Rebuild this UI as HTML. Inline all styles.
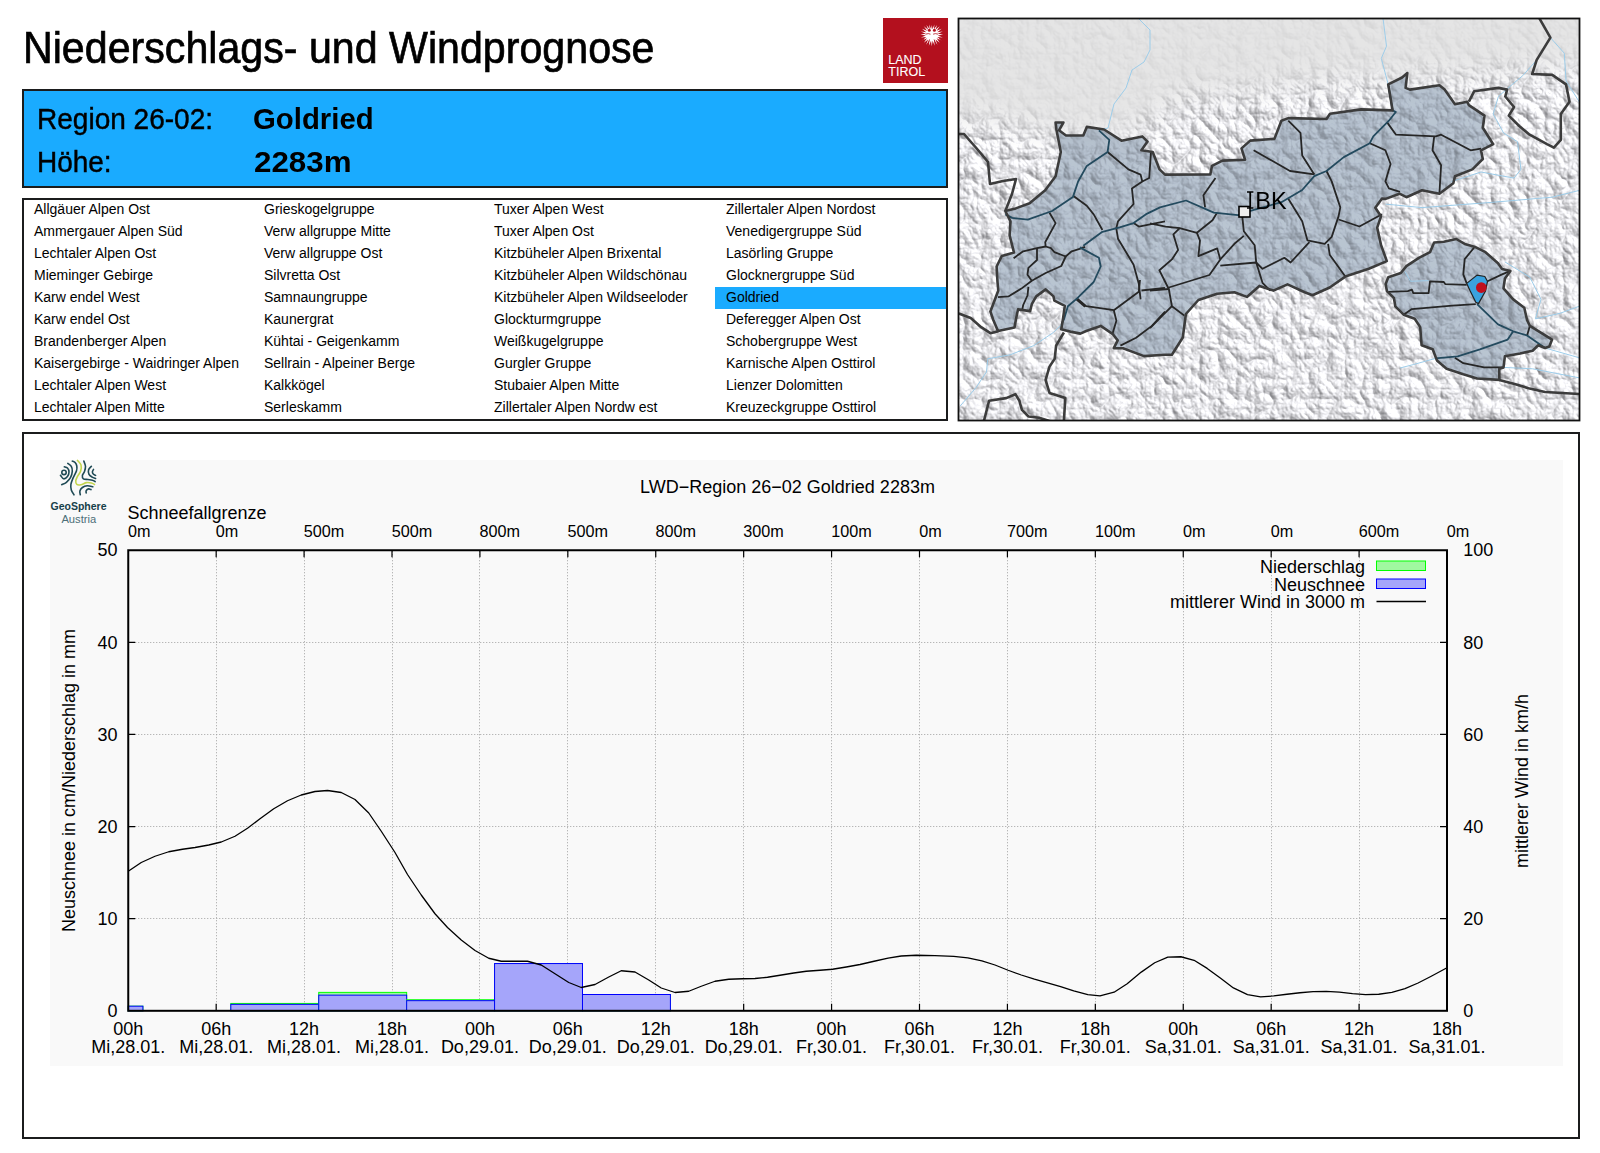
<!DOCTYPE html><html><head><meta charset="utf-8"><title>Niederschlags- und Windprognose</title><style>
html,body{margin:0;padding:0;background:#fff;width:1600px;height:1153px;overflow:hidden}
body{position:relative;font-family:"Liberation Sans",sans-serif;color:#000}
.a{position:absolute;white-space:pre;line-height:1}
svg{position:absolute;left:0;top:0}
</style></head><body>
<div class="a" style="left:23px;top:25.5px;font-size:44.5px;-webkit-text-stroke:0.7px #000;transform-origin:0 0;transform:scaleX(0.925)">Niederschlags- und Windprognose</div>
<div class="a" style="left:883px;top:18px;width:65px;height:65px;background:#b3101e"></div>
<div class="a" style="left:888.3px;top:54.3px;font-size:12.5px;color:#fff;line-height:12.1px;-webkit-text-stroke:0.1px #fff">LAND<br>TIROL</div>
<svg width="1600" height="1153" viewBox="0 0 1600 1153"><path d="M931.80 25.02L932.48 29.30L934.40 24.60L933.93 29.31L937.20 24.97L935.41 29.75L939.79 26.37L936.56 30.84L941.59 28.78L937.34 32.24L942.71 31.59L937.75 33.79L943.10 34.60L937.75 35.41L942.71 37.61L937.34 36.96L941.59 40.42L936.56 38.36L939.79 42.83L935.45 39.50L937.45 44.68L934.10 40.31L934.72 45.84L932.58 40.73L931.80 46.24L931.02 40.73L928.88 45.84L929.50 40.31L926.15 44.68L928.15 39.50L923.81 42.83L927.04 38.36L922.01 40.42L926.26 36.96L920.89 37.61L925.85 35.41L920.50 34.60L925.85 33.79L920.89 31.59L926.26 32.24L922.01 28.78L927.04 30.84L923.81 26.37L928.19 29.75L926.40 24.97L929.67 29.31L929.20 24.60L931.12 29.30Z" fill="#fff"/><circle cx="929.3" cy="30.2" r="1.5" fill="#b3101e"/><circle cx="934.4" cy="30.2" r="1.5" fill="#b3101e"/><path d="M925.5 34.2Q928.5 33 930.5 34.2M933.1 34.2Q935.1 33 938.1 34.2" stroke="#b3101e" stroke-width="0.8" fill="none"/><path d="M929.5 39.5L927.8 44M934.1 39.5L935.8 44M924 38.5L922.5 41M939.6 38.5L941.1 41" stroke="#b3101e" stroke-width="0.9" fill="none"/></svg>
<div class="a" style="left:22px;top:89px;width:922px;height:95px;background:#1aabff;border:2px solid #1b1c1d"></div>
<div class="a" style="left:37px;top:103.8px;font-size:29.5px;-webkit-text-stroke:0.45px #000;transform-origin:0 0;transform:scaleX(0.95)">Region 26-02:</div>
<div class="a" style="left:37px;top:146.8px;font-size:29.5px;-webkit-text-stroke:0.45px #000;transform-origin:0 0;transform:scaleX(0.948)">Höhe:</div>
<div class="a" style="left:253px;top:103.5px;font-size:30px;font-weight:bold;transform-origin:0 0;transform:scaleX(0.978)">Goldried</div>
<div class="a" style="left:254px;top:146.5px;font-size:30px;font-weight:bold;transform-origin:0 0;transform:scaleX(1.044)">2283m</div>
<div class="a" style="left:22px;top:198px;width:922px;height:219px;border:2px solid #1b1c1d"></div>
<div class="a" style="left:715px;top:287px;width:231px;height:22px;background:#1aabff"></div>
<div class="a" style="left:34px;top:202.2px;font-size:14px">Allgäuer Alpen Ost</div>
<div class="a" style="left:34px;top:224.2px;font-size:14px">Ammergauer Alpen Süd</div>
<div class="a" style="left:34px;top:246.2px;font-size:14px">Lechtaler Alpen Ost</div>
<div class="a" style="left:34px;top:268.2px;font-size:14px">Mieminger Gebirge</div>
<div class="a" style="left:34px;top:290.2px;font-size:14px">Karw endel West</div>
<div class="a" style="left:34px;top:312.2px;font-size:14px">Karw endel Ost</div>
<div class="a" style="left:34px;top:334.2px;font-size:14px">Brandenberger Alpen</div>
<div class="a" style="left:34px;top:356.2px;font-size:14px">Kaisergebirge - Waidringer Alpen</div>
<div class="a" style="left:34px;top:378.2px;font-size:14px">Lechtaler Alpen West</div>
<div class="a" style="left:34px;top:400.2px;font-size:14px">Lechtaler Alpen Mitte</div>
<div class="a" style="left:264px;top:202.2px;font-size:14px">Grieskogelgruppe</div>
<div class="a" style="left:264px;top:224.2px;font-size:14px">Verw allgruppe Mitte</div>
<div class="a" style="left:264px;top:246.2px;font-size:14px">Verw allgruppe Ost</div>
<div class="a" style="left:264px;top:268.2px;font-size:14px">Silvretta Ost</div>
<div class="a" style="left:264px;top:290.2px;font-size:14px">Samnaungruppe</div>
<div class="a" style="left:264px;top:312.2px;font-size:14px">Kaunergrat</div>
<div class="a" style="left:264px;top:334.2px;font-size:14px">Kühtai - Geigenkamm</div>
<div class="a" style="left:264px;top:356.2px;font-size:14px">Sellrain - Alpeiner Berge</div>
<div class="a" style="left:264px;top:378.2px;font-size:14px">Kalkkögel</div>
<div class="a" style="left:264px;top:400.2px;font-size:14px">Serleskamm</div>
<div class="a" style="left:494px;top:202.2px;font-size:14px">Tuxer Alpen West</div>
<div class="a" style="left:494px;top:224.2px;font-size:14px">Tuxer Alpen Ost</div>
<div class="a" style="left:494px;top:246.2px;font-size:14px">Kitzbüheler Alpen Brixental</div>
<div class="a" style="left:494px;top:268.2px;font-size:14px">Kitzbüheler Alpen Wildschönau</div>
<div class="a" style="left:494px;top:290.2px;font-size:14px">Kitzbüheler Alpen Wildseeloder</div>
<div class="a" style="left:494px;top:312.2px;font-size:14px">Glockturmgruppe</div>
<div class="a" style="left:494px;top:334.2px;font-size:14px">Weißkugelgruppe</div>
<div class="a" style="left:494px;top:356.2px;font-size:14px">Gurgler Gruppe</div>
<div class="a" style="left:494px;top:378.2px;font-size:14px">Stubaier Alpen Mitte</div>
<div class="a" style="left:494px;top:400.2px;font-size:14px">Zillertaler Alpen Nordw est</div>
<div class="a" style="left:726px;top:202.2px;font-size:14px">Zillertaler Alpen Nordost</div>
<div class="a" style="left:726px;top:224.2px;font-size:14px">Venedigergruppe Süd</div>
<div class="a" style="left:726px;top:246.2px;font-size:14px">Lasörling Gruppe</div>
<div class="a" style="left:726px;top:268.2px;font-size:14px">Glocknergruppe Süd</div>
<div class="a" style="left:726px;top:290.2px;font-size:14px">Goldried</div>
<div class="a" style="left:726px;top:312.2px;font-size:14px">Deferegger Alpen Ost</div>
<div class="a" style="left:726px;top:334.2px;font-size:14px">Schobergruppe West</div>
<div class="a" style="left:726px;top:356.2px;font-size:14px">Karnische Alpen Osttirol</div>
<div class="a" style="left:726px;top:378.2px;font-size:14px">Lienzer Dolomitten</div>
<div class="a" style="left:726px;top:400.2px;font-size:14px">Kreuzeckgruppe Osttirol</div>
<div class="a" style="left:22px;top:432px;width:1554px;height:703px;border:2px solid #1b1c1d"></div>
<svg width="1600" height="1153" viewBox="0 0 1600 1153" style="font-family:'Liberation Sans',sans-serif"><rect x="50" y="460" width="1513" height="606" fill="#f9f9f9"/><path d="M216.50 551.25V1009.80M304.50 551.25V1009.80M392.50 551.25V1009.80M479.50 551.25V1009.80M567.50 551.25V1009.80M655.50 551.25V1009.80M743.50 551.25V1009.80M831.50 551.25V1009.80M919.50 551.25V1009.80M1007.50 551.25V1009.80M1095.50 551.25V1009.80M1183.50 551.25V1009.80M1271.50 551.25V1009.80M1359.50 551.25V1009.80M129.25 918.50H1446.00M129.25 826.50H1446.00M129.25 734.50H1446.00M129.25 642.50H1446.00" stroke="#a0a0a0" stroke-width="1" stroke-dasharray="1 2" fill="none"/><path d="M216.17 1010.80v-7M216.17 550.25v7M304.08 1010.80v-7M304.08 550.25v7M392.00 1010.80v-7M392.00 550.25v7M479.92 1010.80v-7M479.92 550.25v7M567.83 1010.80v-7M567.83 550.25v7M655.75 1010.80v-7M655.75 550.25v7M743.67 1010.80v-7M743.67 550.25v7M831.58 1010.80v-7M831.58 550.25v7M919.50 1010.80v-7M919.50 550.25v7M1007.42 1010.80v-7M1007.42 550.25v7M1095.33 1010.80v-7M1095.33 550.25v7M1183.25 1010.80v-7M1183.25 550.25v7M1271.17 1010.80v-7M1271.17 550.25v7M1359.08 1010.80v-7M1359.08 550.25v7M128.25 918.69h7M1447.00 918.69h-7M128.25 826.58h7M1447.00 826.58h-7M128.25 734.47h7M1447.00 734.47h-7M128.25 642.36h7M1447.00 642.36h-7" stroke="#000" stroke-width="1.2" fill="none"/><rect x="128.25" y="1006.19" width="14.65" height="4.61" fill="#a0f8a0" stroke="#00ff00" stroke-width="1"/><rect x="128.25" y="1006.19" width="14.65" height="4.61" fill="#a5a5fa" stroke="#0000ff" stroke-width="1"/><rect x="230.82" y="1003.43" width="87.92" height="7.37" fill="#a0f8a0" stroke="#00ff00" stroke-width="1"/><rect x="230.82" y="1004.35" width="87.92" height="6.45" fill="#a5a5fa" stroke="#0000ff" stroke-width="1"/><rect x="318.74" y="992.38" width="87.92" height="18.42" fill="#a0f8a0" stroke="#00ff00" stroke-width="1"/><rect x="318.74" y="995.14" width="87.92" height="15.66" fill="#a5a5fa" stroke="#0000ff" stroke-width="1"/><rect x="406.65" y="999.75" width="87.92" height="11.05" fill="#a0f8a0" stroke="#00ff00" stroke-width="1"/><rect x="406.65" y="1000.67" width="87.92" height="10.13" fill="#a5a5fa" stroke="#0000ff" stroke-width="1"/><rect x="494.57" y="963.55" width="87.92" height="47.25" fill="#a0f8a0" stroke="#00ff00" stroke-width="1"/><rect x="494.57" y="963.55" width="87.92" height="47.25" fill="#a5a5fa" stroke="#0000ff" stroke-width="1"/><rect x="582.49" y="994.50" width="87.92" height="16.30" fill="#a0f8a0" stroke="#00ff00" stroke-width="1"/><rect x="582.49" y="994.50" width="87.92" height="16.30" fill="#a5a5fa" stroke="#0000ff" stroke-width="1"/><polyline points="128.25,871.25 141.25,862.50 155.00,856.25 168.75,851.75 182.50,849.25 195.00,847.50 208.75,845.00 221.25,842.00 235.00,836.25 247.50,828.25 260.00,818.75 273.75,808.75 287.50,800.75 301.25,795.00 315.00,791.50 327.50,790.50 341.25,792.50 355.00,799.50 368.75,813.00 381.25,831.25 395.00,852.50 407.50,874.50 421.25,895.00 435.00,913.75 447.50,927.50 461.25,940.00 475.00,950.50 488.75,958.25 501.25,961.25 527.50,961.25 541.25,965.00 555.00,973.75 568.75,982.50 581.25,987.50 595.00,984.50 608.75,977.00 621.25,970.75 635.00,972.00 648.75,980.00 661.25,988.00 675.00,992.50 688.75,991.25 701.25,986.25 715.00,981.25 728.75,979.25 742.50,978.75 755.00,978.50 767.50,977.25 780.00,975.25 793.75,973.00 806.25,971.25 820.00,970.25 832.50,969.25 846.25,967.00 860.00,964.50 874.10,961.25 888.10,958.10 901.25,956.00 916.25,955.25 935.00,955.60 953.75,956.40 967.80,957.90 981.90,960.90 995.00,965.00 1008.10,970.25 1021.25,975.00 1034.40,979.10 1047.50,982.80 1060.60,986.60 1073.75,990.90 1087.80,994.60 1100.00,995.90 1114.10,992.20 1127.20,983.75 1141.25,972.10 1154.70,962.75 1167.80,957.10 1180.90,956.75 1194.10,960.30 1207.20,968.40 1220.30,978.10 1233.40,987.90 1247.50,994.60 1260.60,996.90 1273.75,995.90 1286.90,994.25 1300.00,992.75 1313.10,991.60 1326.25,991.40 1339.40,992.20 1352.50,993.70 1365.60,994.60 1378.75,994.25 1391.90,992.40 1405.00,988.60 1418.10,983.00 1431.25,976.25 1447.00,967.80" fill="none" stroke="#000" stroke-width="1.3" stroke-linejoin="round"/><rect x="128.25" y="550.25" width="1318.75" height="460.55" fill="none" stroke="#000" stroke-width="2"/><text x="117.5" y="1017.00" font-size="18" text-anchor="end">0</text><text x="117.5" y="924.89" font-size="18" text-anchor="end">10</text><text x="117.5" y="832.78" font-size="18" text-anchor="end">20</text><text x="117.5" y="740.67" font-size="18" text-anchor="end">30</text><text x="117.5" y="648.56" font-size="18" text-anchor="end">40</text><text x="117.5" y="556.45" font-size="18" text-anchor="end">50</text><text x="1463.2" y="1017.00" font-size="18">0</text><text x="1463.2" y="924.89" font-size="18">20</text><text x="1463.2" y="832.78" font-size="18">40</text><text x="1463.2" y="740.67" font-size="18">60</text><text x="1463.2" y="648.56" font-size="18">80</text><text x="1463.2" y="556.45" font-size="18">100</text><text x="128.25" y="1035" font-size="18" text-anchor="middle">00h</text><text x="128.25" y="1053" font-size="18" text-anchor="middle">Mi,28.01.</text><text x="216.17" y="1035" font-size="18" text-anchor="middle">06h</text><text x="216.17" y="1053" font-size="18" text-anchor="middle">Mi,28.01.</text><text x="304.08" y="1035" font-size="18" text-anchor="middle">12h</text><text x="304.08" y="1053" font-size="18" text-anchor="middle">Mi,28.01.</text><text x="392.00" y="1035" font-size="18" text-anchor="middle">18h</text><text x="392.00" y="1053" font-size="18" text-anchor="middle">Mi,28.01.</text><text x="479.92" y="1035" font-size="18" text-anchor="middle">00h</text><text x="479.92" y="1053" font-size="18" text-anchor="middle">Do,29.01.</text><text x="567.83" y="1035" font-size="18" text-anchor="middle">06h</text><text x="567.83" y="1053" font-size="18" text-anchor="middle">Do,29.01.</text><text x="655.75" y="1035" font-size="18" text-anchor="middle">12h</text><text x="655.75" y="1053" font-size="18" text-anchor="middle">Do,29.01.</text><text x="743.67" y="1035" font-size="18" text-anchor="middle">18h</text><text x="743.67" y="1053" font-size="18" text-anchor="middle">Do,29.01.</text><text x="831.58" y="1035" font-size="18" text-anchor="middle">00h</text><text x="831.58" y="1053" font-size="18" text-anchor="middle">Fr,30.01.</text><text x="919.50" y="1035" font-size="18" text-anchor="middle">06h</text><text x="919.50" y="1053" font-size="18" text-anchor="middle">Fr,30.01.</text><text x="1007.42" y="1035" font-size="18" text-anchor="middle">12h</text><text x="1007.42" y="1053" font-size="18" text-anchor="middle">Fr,30.01.</text><text x="1095.33" y="1035" font-size="18" text-anchor="middle">18h</text><text x="1095.33" y="1053" font-size="18" text-anchor="middle">Fr,30.01.</text><text x="1183.25" y="1035" font-size="18" text-anchor="middle">00h</text><text x="1183.25" y="1053" font-size="18" text-anchor="middle">Sa,31.01.</text><text x="1271.17" y="1035" font-size="18" text-anchor="middle">06h</text><text x="1271.17" y="1053" font-size="18" text-anchor="middle">Sa,31.01.</text><text x="1359.08" y="1035" font-size="18" text-anchor="middle">12h</text><text x="1359.08" y="1053" font-size="18" text-anchor="middle">Sa,31.01.</text><text x="1447.00" y="1035" font-size="18" text-anchor="middle">18h</text><text x="1447.00" y="1053" font-size="18" text-anchor="middle">Sa,31.01.</text><text x="127.95" y="537" font-size="16.2">0m</text><text x="215.87" y="537" font-size="16.2">0m</text><text x="303.78" y="537" font-size="16.2">500m</text><text x="391.70" y="537" font-size="16.2">500m</text><text x="479.62" y="537" font-size="16.2">800m</text><text x="567.53" y="537" font-size="16.2">500m</text><text x="655.45" y="537" font-size="16.2">800m</text><text x="743.37" y="537" font-size="16.2">300m</text><text x="831.28" y="537" font-size="16.2">100m</text><text x="919.20" y="537" font-size="16.2">0m</text><text x="1007.12" y="537" font-size="16.2">700m</text><text x="1095.03" y="537" font-size="16.2">100m</text><text x="1182.95" y="537" font-size="16.2">0m</text><text x="1270.87" y="537" font-size="16.2">0m</text><text x="1358.78" y="537" font-size="16.2">600m</text><text x="1446.70" y="537" font-size="16.2">0m</text><text x="127.5" y="519.4" font-size="18">Schneefallgrenze</text><text x="787.5" y="492.8" font-size="18" text-anchor="middle">LWD−Region 26−02 Goldried 2283m</text><text transform="translate(75,780.5) rotate(-90)" font-size="18" text-anchor="middle">Neuschnee in cm/Niederschlag in mm</text><text transform="translate(1527.5,781) rotate(-90)" font-size="18" text-anchor="middle">mittlerer Wind in km/h</text><text x="1365" y="572.5" font-size="18" text-anchor="end">Niederschlag</text><text x="1365" y="590.5" font-size="18" text-anchor="end">Neuschnee</text><text x="1365" y="608.3" font-size="18" text-anchor="end">mittlerer Wind in 3000 m</text><rect x="1376.5" y="561" width="49" height="9.5" fill="#a0f8a0" stroke="#00ff00" stroke-width="1"/><rect x="1376.5" y="579" width="49" height="9.5" fill="#a5a5fa" stroke="#0000ff" stroke-width="1"/><path d="M1376.5 601.5H1426" stroke="#000" stroke-width="1.5"/><g fill="none" stroke="#1f4a55" stroke-width="1.6" stroke-linecap="round"><circle cx="64" cy="472.4" r="2.2"/><path d="M60.50 475.35C61.02 475.93 62.44 478.62 63.60 478.80C64.76 478.98 66.55 477.55 67.45 476.40C68.35 475.25 69.00 473.29 69.00 471.90C69.00 470.51 68.23 468.90 67.45 468.06C66.67 467.22 64.83 467.05 64.30 466.85"/><path d="M61.70 484.70C62.48 484.30 64.92 483.52 66.40 482.30C67.88 481.08 69.62 479.25 70.60 477.40C71.58 475.55 72.18 473.05 72.30 471.20C72.42 469.35 72.05 467.60 71.30 466.30C70.55 465.00 68.38 463.88 67.80 463.40"/><path d="M74.00 494.80C73.55 493.98 71.82 491.63 71.30 489.90C70.78 488.17 70.62 486.37 70.90 484.40C71.18 482.43 72.07 480.37 73.00 478.10C73.93 475.83 75.87 472.82 76.50 470.80C77.13 468.78 77.03 467.38 76.80 466.00C76.57 464.62 75.85 463.32 75.10 462.50C74.35 461.68 72.77 461.33 72.30 461.10"/><path d="M83.80 461.10C84.08 461.97 85.38 464.57 85.50 466.30C85.62 468.03 85.02 469.99 84.50 471.50C83.98 473.01 82.58 474.13 82.40 475.35C82.22 476.57 82.48 478.11 83.40 478.80C84.32 479.49 86.40 479.27 87.90 479.50C89.40 479.73 91.18 479.85 92.40 480.20C93.62 480.55 94.73 481.37 95.20 481.60"/><path d="M91.40 466.30C90.93 466.88 89.00 468.47 88.60 469.80C88.20 471.13 88.42 473.08 89.00 474.30C89.58 475.52 91.00 476.40 92.10 477.10C93.20 477.80 95.02 478.27 95.60 478.50"/><path d="M93.50 469.45C93.32 469.86 92.40 471.09 92.40 471.90C92.40 472.71 92.97 473.73 93.50 474.30C94.03 474.88 95.25 475.18 95.60 475.35"/><path d="M80.30 494.80C80.23 494.17 79.55 492.22 79.90 491.00C80.25 489.78 81.18 488.37 82.40 487.50C83.62 486.63 85.47 485.92 87.20 485.80C88.93 485.68 91.87 486.63 92.80 486.80"/><path d="M86.20 493.00C86.20 492.60 85.80 491.28 86.20 490.60C86.60 489.92 87.80 489.07 88.60 488.90C89.40 488.73 90.60 489.48 91.00 489.60"/></g><path d="M77.50 460.40C78.08 461.15 80.48 463.10 81.00 464.90C81.52 466.70 81.18 469.28 80.60 471.20C80.02 473.12 78.30 474.83 77.50 476.40C76.70 477.97 75.92 479.27 75.80 480.60C75.68 481.93 75.93 483.72 76.80 484.40C77.67 485.08 79.38 485.00 81.00 484.70C82.62 484.40 84.77 482.88 86.50 482.60C88.23 482.32 90.07 482.70 91.40 483.00C92.73 483.30 93.98 484.17 94.50 484.40" fill="none" stroke="#c3d54c" stroke-width="1.6" stroke-linecap="round"/><text x="78.5" y="510.3" font-size="10.5" font-weight="bold" fill="#16404a" text-anchor="middle">GeoSphere</text><text x="78.8" y="522.8" font-size="11.2" fill="#4d6f78" text-anchor="middle">Austria</text></svg>
<svg width="1600" height="1153" viewBox="0 0 1600 1153"><defs><clipPath id="mc"><rect x="959" y="19" width="620" height="401"/></clipPath><filter id="mb" x="-10%" y="-10%" width="120%" height="120%"><feGaussianBlur stdDeviation="14"/></filter><mask id="mm" maskUnits="userSpaceOnUse" x="959" y="19" width="620" height="401"><rect x="959" y="19" width="620" height="401" fill="#202020"/><path d="M900 112L1000 122L1060 135L1110 138L1150 122L1180 100L1230 95L1280 88L1330 82L1380 80L1430 78L1480 76L1530 70L1600 66V460H900Z" fill="#fff" filter="url(#mb)"/></mask><filter id="hs" filterUnits="userSpaceOnUse" x="959" y="19" width="620" height="401" color-interpolation-filters="sRGB"><feTurbulence type="turbulence" baseFrequency="0.055 0.05" numOctaves="5" seed="5" result="n"/><feDiffuseLighting in="n" surfaceScale="3.5" diffuseConstant="1.1" lighting-color="#fff" result="l"><feDistantLight azimuth="315" elevation="45"/></feDiffuseLighting><feComponentTransfer><feFuncR type="linear" slope="0.5" intercept="0.522"/><feFuncG type="linear" slope="0.5" intercept="0.522"/><feFuncB type="linear" slope="0.5" intercept="0.537"/></feComponentTransfer></filter></defs><g clip-path="url(#mc)"><rect x="959" y="19" width="620" height="401" fill="#e2e2e2"/><rect x="959" y="19" width="620" height="401" fill="#fff" filter="url(#hs)" mask="url(#mm)"/><polygon points="1005.3,211.0 1010.5,221.4 1009.6,235.3 1014.0,252.6 1001.8,256.0 996.6,266.5 997.5,282.0 998.3,290.5 990.4,311.5 993.1,319.4 998.0,331.1 1014.5,327.6 1016.2,318.1 1018.0,309.4 1030.1,311.1 1031.8,304.2 1036.2,296.4 1045.7,289.4 1053.5,296.4 1054.4,300.7 1064.8,305.9 1063.1,318.1 1061.3,329.3 1071.7,331.9 1080.4,333.6 1086.2,331.0 1100.7,325.9 1112.5,333.8 1117.7,340.4 1113.8,348.2 1123.0,348.2 1144.0,356.1 1165.0,354.8 1171.9,354.7 1182.8,337.5 1185.9,314.0 1198.4,300.0 1217.2,293.8 1234.4,292.2 1246.9,296.9 1259.4,285.9 1273.4,290.6 1287.5,284.4 1304.7,292.2 1312.5,295.3 1329.7,287.5 1345.3,276.6 1368.8,268.8 1386.8,261.1 1381.0,244.9 1377.2,227.7 1381.0,216.3 1375.3,207.7 1382.0,198.6 1385.6,198.9 1399.5,193.7 1406.4,197.2 1422.0,190.2 1439.4,193.7 1453.3,183.3 1455.0,176.3 1472.4,169.4 1482.8,159.0 1481.0,150.3 1493.2,144.2 1482.8,127.8 1484.5,115.6 1468.9,105.2 1467.2,101.7 1455.0,104.3 1444.6,89.6 1439.4,85.3 1409.9,89.6 1405.6,87.9 1407.3,73.1 1402.1,77.5 1388.2,84.4 1392.6,110.4 1361.1,109.4 1330.0,113.8 1326.5,119.0 1288.3,118.1 1281.4,120.7 1274.4,138.9 1250.2,140.6 1241.5,148.4 1245.0,159.7 1222.4,160.6 1212.0,165.8 1210.3,174.4 1165.0,174.6 1159.6,169.4 1152.7,152.0 1141.4,150.3 1147.5,141.6 1142.3,136.4 1121.5,140.7 1104.1,129.5 1086.8,126.9 1083.3,135.5 1066.0,135.5 1059.0,130.3 1063.4,122.5 1055.6,122.5 1056.4,129.5 1060.8,152.0 1055.6,176.3 1045.2,190.2 1029.6,203.2 1015.7,208.4" fill="#bac6d3" stroke="none" style="mix-blend-mode:multiply"/><polygon points="1385.6,284.1 1388.3,277.2 1400.8,273.0 1406.4,266.1 1418.9,257.8 1430.0,252.2 1434.1,242.5 1443.8,241.8 1456.3,239.0 1464.7,243.9 1474.4,246.7 1485.5,252.2 1498.0,263.3 1502.1,268.9 1510.4,270.9 1504.9,278.6 1503.5,288.3 1513.2,299.4 1524.3,307.7 1527.1,320.2 1529.9,325.8 1552.1,339.6 1549.3,346.6 1545.1,348.0 1538.2,345.2 1532.6,350.7 1520.2,353.5 1504.9,356.3 1503.5,367.4 1499.3,368.8 1499.3,379.9 1477.1,378.5 1463.3,374.3 1446.6,368.8 1436.9,360.4 1432.7,349.3 1421.6,345.2 1420.2,327.1 1414.7,318.8 1403.6,314.7 1395.3,306.3 1393.9,298.0 1386.9,291.1" fill="#bac6d3" stroke="none" style="mix-blend-mode:multiply"/><polygon points="1005.3,211.0 1010.5,221.4 1009.6,235.3 1014.0,252.6 1001.8,256.0 996.6,266.5 997.5,282.0 998.3,290.5 990.4,311.5 993.1,319.4 998.0,331.1 1014.5,327.6 1016.2,318.1 1018.0,309.4 1030.1,311.1 1031.8,304.2 1036.2,296.4 1045.7,289.4 1053.5,296.4 1054.4,300.7 1064.8,305.9 1063.1,318.1 1061.3,329.3 1071.7,331.9 1080.4,333.6 1086.2,331.0 1100.7,325.9 1112.5,333.8 1117.7,340.4 1113.8,348.2 1123.0,348.2 1144.0,356.1 1165.0,354.8 1171.9,354.7 1182.8,337.5 1185.9,314.0 1198.4,300.0 1217.2,293.8 1234.4,292.2 1246.9,296.9 1259.4,285.9 1273.4,290.6 1287.5,284.4 1304.7,292.2 1312.5,295.3 1329.7,287.5 1345.3,276.6 1368.8,268.8 1386.8,261.1 1381.0,244.9 1377.2,227.7 1381.0,216.3 1375.3,207.7 1382.0,198.6 1385.6,198.9 1399.5,193.7 1406.4,197.2 1422.0,190.2 1439.4,193.7 1453.3,183.3 1455.0,176.3 1472.4,169.4 1482.8,159.0 1481.0,150.3 1493.2,144.2 1482.8,127.8 1484.5,115.6 1468.9,105.2 1467.2,101.7 1455.0,104.3 1444.6,89.6 1439.4,85.3 1409.9,89.6 1405.6,87.9 1407.3,73.1 1402.1,77.5 1388.2,84.4 1392.6,110.4 1361.1,109.4 1330.0,113.8 1326.5,119.0 1288.3,118.1 1281.4,120.7 1274.4,138.9 1250.2,140.6 1241.5,148.4 1245.0,159.7 1222.4,160.6 1212.0,165.8 1210.3,174.4 1165.0,174.6 1159.6,169.4 1152.7,152.0 1141.4,150.3 1147.5,141.6 1142.3,136.4 1121.5,140.7 1104.1,129.5 1086.8,126.9 1083.3,135.5 1066.0,135.5 1059.0,130.3 1063.4,122.5 1055.6,122.5 1056.4,129.5 1060.8,152.0 1055.6,176.3 1045.2,190.2 1029.6,203.2 1015.7,208.4" fill="#b6c2cf" fill-opacity="0.35"/><polygon points="1385.6,284.1 1388.3,277.2 1400.8,273.0 1406.4,266.1 1418.9,257.8 1430.0,252.2 1434.1,242.5 1443.8,241.8 1456.3,239.0 1464.7,243.9 1474.4,246.7 1485.5,252.2 1498.0,263.3 1502.1,268.9 1510.4,270.9 1504.9,278.6 1503.5,288.3 1513.2,299.4 1524.3,307.7 1527.1,320.2 1529.9,325.8 1552.1,339.6 1549.3,346.6 1545.1,348.0 1538.2,345.2 1532.6,350.7 1520.2,353.5 1504.9,356.3 1503.5,367.4 1499.3,368.8 1499.3,379.9 1477.1,378.5 1463.3,374.3 1446.6,368.8 1436.9,360.4 1432.7,349.3 1421.6,345.2 1420.2,327.1 1414.7,318.8 1403.6,314.7 1395.3,306.3 1393.9,298.0 1386.9,291.1" fill="#b6c2cf" fill-opacity="0.35"/><polygon points="1466.7,283.4 1477.1,275.1 1484.8,276.5 1487.5,281.3 1485.5,291.1 1478.5,303.6 1475.8,302.2 1470.2,291.1" fill="#3aa2df" stroke="#222" stroke-width="1.2"/><g fill="none" stroke="#9dcdea" stroke-width="1"><polyline points="1405.0,271.6 1410.5,281.3 1428.6,280.6"/><polyline points="1504.9,261.9 1529.9,277.2 1541.0,299.4 1535.4,318.8 1560.0,313.3 1580.0,306.0"/><polyline points="1400.0,368.0 1413.3,364.6 1435.5,358.4"/><polyline points="1503.5,367.4 1532.6,368.8 1580.0,378.0"/><polyline points="1545.1,348.0 1580.0,358.0"/><polyline points="960.2,406.0 976.0,387.6 986.5,371.9 987.8,358.8 1010.1,354.8 1033.8,345.6 1053.4,332.5 1061.3,324.6"/><polyline points="1138.0,18.0 1150.0,30.0 1150.0,50.0 1144.0,62.0 1132.0,70.0 1126.0,88.0 1114.0,104.0 1108.0,128.0 1098.9,130.3"/><polyline points="1383.0,18.0 1386.5,46.2 1381.3,58.4 1388.2,84.4"/><polyline points="1550.4,37.6 1564.3,53.2 1566.0,80.9 1580.0,103.0"/><polyline points="1536.6,60.1 1522.7,75.7 1512.3,84.4 1498.4,96.5 1493.2,113.9 1503.6,133.0 1517.5,141.7 1520.9,169.4 1514.0,178.1 1481.0,172.0 1451.5,181.6"/><polyline points="1385.6,204.1 1422.0,207.6 1491.4,202.4 1552.2,197.2 1580.0,190.2"/></g><g fill="none" stroke="#262626" stroke-width="1.8" stroke-linejoin="round"><polyline points="1107.6,152.0 1128.4,169.4 1140.6,174.6 1142.3,181.5 1131.9,188.4 1133.6,204.0 1118.0,221.4 1116.3,228.3 1118.0,238.7 1133.6,264.7 1138.8,283.8 1140.6,299.4"/><polyline points="1151.0,152.0 1149.2,178.0 1142.3,181.5"/><polyline points="1073.8,196.2 1086.8,205.8 1093.7,214.4 1102.4,230.0"/><polyline points="1049.5,212.7 1055.6,223.1 1045.2,242.2 1045.7,246.5 1050.9,248.2 1054.4,252.1 1065.7,256.5 1071.7,251.3 1080.4,248.7 1085.0,246.9"/><polyline points="1013.6,258.2 1023.2,251.3 1037.0,248.2 1045.7,246.5"/><polyline points="1037.0,248.2 1037.0,260.0 1028.4,267.8 1027.5,274.7 1031.8,280.8"/><polyline points="1028.4,286.8 1027.5,295.5 1023.2,305.0 1022.3,309.4"/><polyline points="1076.0,299.0 1085.0,306.8"/><polyline points="1065.7,256.5 1061.3,266.0 1045.7,273.0 1031.8,280.8 1021.4,288.6 1008.4,296.4 998.0,297.2"/><polyline points="1165.0,221.4 1138.8,226.6 1133.6,223.1"/><polyline points="1077.1,298.4 1086.2,306.2 1113.8,310.2 1138.8,291.8 1140.0,280.0"/><polyline points="1113.8,310.2 1116.4,320.7 1112.5,333.8"/><polyline points="1120.4,345.6 1136.1,337.7 1151.9,325.9 1165.0,311.5"/><polyline points="1141.4,290.5 1165.0,287.9"/><polyline points="1253.6,150.2 1290.0,171.0 1314.3,174.4"/><polyline points="1288.3,120.7 1300.5,132.8 1302.2,155.4 1314.3,174.4"/><polyline points="1215.5,177.9 1203.4,195.2 1205.1,207.4"/><polyline points="1288.3,198.7 1302.2,221.3 1307.4,240.3 1324.7,243.8 1331.7,236.9 1338.6,216.1 1340.3,207.4 1331.7,181.4 1326.5,171.0"/><polyline points="1338.6,219.5 1359.4,226.5 1382.0,214.3"/><polyline points="1369.8,143.2 1385.4,150.2 1390.6,164.0 1385.4,181.4 1388.9,188.3 1400.0,191.8"/><polyline points="1150.0,223.4 1165.6,226.6 1179.7,228.1 1196.9,232.8 1212.5,220.3 1217.2,212.5"/><polyline points="1179.7,228.1 1173.4,234.4 1178.1,250.0 1171.9,259.4 1159.4,270.3 1168.8,289.0 1150.0,290.6"/><polyline points="1168.8,289.0 1171.9,306.2 1184.4,315.6"/><polyline points="1171.9,306.2 1150.0,328.1"/><polyline points="1196.9,232.8 1200.0,240.6 1198.4,256.2 1217.2,248.4 1220.3,259.4 1209.4,275.0 1168.8,287.5"/><polyline points="1242.2,215.6 1243.8,231.2 1254.7,245.3 1256.2,262.5 1262.5,282.8 1270.3,290.6"/><polyline points="1243.8,235.9 1234.4,243.8 1220.3,259.4"/><polyline points="1220.3,265.6 1256.2,262.5 1262.5,268.8 1284.4,257.8 1290.6,262.5 1309.4,242.2"/><polyline points="1328.1,243.8 1329.7,254.7 1345.3,276.6"/><polyline points="1387.3,122.6 1396.0,134.7 1435.9,136.4 1441.1,134.7 1470.6,150.3 1481.0,148.6"/><polyline points="1434.2,136.4 1432.5,150.3 1441.1,165.3 1439.4,193.7"/><polyline points="1388.3,291.8 1407.8,291.1 1411.9,289.7 1413.3,293.1 1428.6,293.1 1430.0,281.3 1443.8,282.0 1445.2,284.1 1466.7,284.8"/><polyline points="1403.6,314.7 1411.9,309.1 1452.2,305.6 1475.8,304.2"/><polyline points="1527.1,335.5 1529.9,325.8"/><polyline points="1454.9,357.7 1463.3,363.2 1484.1,367.4 1503.5,367.4"/><polyline points="1474.4,247.3 1464.7,259.1 1463.3,274.4 1466.7,283.4"/><polyline points="1487.5,281.3 1502.1,274.4 1510.4,270.9"/></g><g fill="none" stroke="#234a5e" stroke-width="1.8" stroke-linejoin="round"><polyline points="1477.1,304.2 1498.0,324.4 1513.2,331.3 1527.1,335.5 1545.1,348.0"/><polyline points="1513.2,331.3 1507.7,339.6 1479.9,349.3 1457.7,356.3 1435.5,358.4"/><polyline points="1098.9,130.3 1109.3,139.9 1107.6,152.0 1086.8,165.9 1078.1,181.5 1072.9,197.1 1052.1,211.0 1027.8,219.6 1012.2,217.9 1005.3,214.4"/><polyline points="1079.8,247.4 1098.9,257.8 1100.7,266.5 1093.7,282.0 1077.1,298.4 1067.9,306.2 1063.9,319.4 1061.3,324.6"/><polyline points="1083.3,245.7 1102.4,231.8 1119.7,227.4 1133.6,223.1 1145.7,214.4 1160.0,207.4 1186.0,200.5 1213.8,212.6 1238.0,215.2 1250.2,210.9 1281.4,202.2 1302.2,190.0 1314.3,176.2 1326.5,171.0 1343.8,157.1 1369.8,143.2 1373.3,136.3 1388.9,120.7 1395.8,112.0 1392.6,110.4 1388.2,84.4"/></g><g fill="none" stroke="#3c3c3c" stroke-width="2.6" stroke-linejoin="round"><polyline points="958.9,134.0 964.0,134.0 978.0,150.0 988.0,162.0 990.0,184.0 1003.0,181.0 1016.0,179.0 1012.0,194.0 1005.3,211.0"/><polyline points="958.9,313.5 970.7,318.0 981.2,327.2 990.4,333.2 998.3,331.2"/><polyline points="1063.9,332.5 1056.1,345.6 1054.7,358.8 1049.5,366.6 1045.6,379.8 1049.5,392.9 1065.3,398.1 1063.9,421.0"/><polyline points="983.9,421.0 989.1,400.7 1006.2,398.1 1015.4,394.2 1019.3,400.7 1021.9,409.9 1028.5,416.5 1039.0,417.8 1049.5,421.0"/><polyline points="1499.3,379.9 1514.6,384.0 1528.5,388.2 1545.0,392.0 1580.0,394.0"/><polyline points="1539.2,18.0 1550.4,37.6 1536.6,60.1 1532.2,74.0 1552.2,74.9 1566.0,84.4 1569.5,101.7 1560.8,113.9 1560.8,139.9 1553.9,147.7 1547.0,144.2 1529.6,134.7 1519.2,126.0 1508.8,115.6 1514.0,107.0 1505.3,96.5 1507.1,89.6 1498.4,87.9 1474.1,91.3 1468.9,101.7"/><polygon points="1005.3,211.0 1010.5,221.4 1009.6,235.3 1014.0,252.6 1001.8,256.0 996.6,266.5 997.5,282.0 998.3,290.5 990.4,311.5 993.1,319.4 998.0,331.1 1014.5,327.6 1016.2,318.1 1018.0,309.4 1030.1,311.1 1031.8,304.2 1036.2,296.4 1045.7,289.4 1053.5,296.4 1054.4,300.7 1064.8,305.9 1063.1,318.1 1061.3,329.3 1071.7,331.9 1080.4,333.6 1086.2,331.0 1100.7,325.9 1112.5,333.8 1117.7,340.4 1113.8,348.2 1123.0,348.2 1144.0,356.1 1165.0,354.8 1171.9,354.7 1182.8,337.5 1185.9,314.0 1198.4,300.0 1217.2,293.8 1234.4,292.2 1246.9,296.9 1259.4,285.9 1273.4,290.6 1287.5,284.4 1304.7,292.2 1312.5,295.3 1329.7,287.5 1345.3,276.6 1368.8,268.8 1386.8,261.1 1381.0,244.9 1377.2,227.7 1381.0,216.3 1375.3,207.7 1382.0,198.6 1385.6,198.9 1399.5,193.7 1406.4,197.2 1422.0,190.2 1439.4,193.7 1453.3,183.3 1455.0,176.3 1472.4,169.4 1482.8,159.0 1481.0,150.3 1493.2,144.2 1482.8,127.8 1484.5,115.6 1468.9,105.2 1467.2,101.7 1455.0,104.3 1444.6,89.6 1439.4,85.3 1409.9,89.6 1405.6,87.9 1407.3,73.1 1402.1,77.5 1388.2,84.4 1392.6,110.4 1361.1,109.4 1330.0,113.8 1326.5,119.0 1288.3,118.1 1281.4,120.7 1274.4,138.9 1250.2,140.6 1241.5,148.4 1245.0,159.7 1222.4,160.6 1212.0,165.8 1210.3,174.4 1165.0,174.6 1159.6,169.4 1152.7,152.0 1141.4,150.3 1147.5,141.6 1142.3,136.4 1121.5,140.7 1104.1,129.5 1086.8,126.9 1083.3,135.5 1066.0,135.5 1059.0,130.3 1063.4,122.5 1055.6,122.5 1056.4,129.5 1060.8,152.0 1055.6,176.3 1045.2,190.2 1029.6,203.2 1015.7,208.4"/><polygon points="1385.6,284.1 1388.3,277.2 1400.8,273.0 1406.4,266.1 1418.9,257.8 1430.0,252.2 1434.1,242.5 1443.8,241.8 1456.3,239.0 1464.7,243.9 1474.4,246.7 1485.5,252.2 1498.0,263.3 1502.1,268.9 1510.4,270.9 1504.9,278.6 1503.5,288.3 1513.2,299.4 1524.3,307.7 1527.1,320.2 1529.9,325.8 1552.1,339.6 1549.3,346.6 1545.1,348.0 1538.2,345.2 1532.6,350.7 1520.2,353.5 1504.9,356.3 1503.5,367.4 1499.3,368.8 1499.3,379.9 1477.1,378.5 1463.3,374.3 1446.6,368.8 1436.9,360.4 1432.7,349.3 1421.6,345.2 1420.2,327.1 1414.7,318.8 1403.6,314.7 1395.3,306.3 1393.9,298.0 1386.9,291.1"/></g><circle cx="1481.3" cy="287.6" r="5.3" fill="#c0101e"/><rect x="1239" y="206.5" width="11" height="10.5" fill="#eee" stroke="#000" stroke-width="1.6"/><path d="M1247 192H1253.4M1247 208H1253.4M1250.2 192V208" stroke="#000" stroke-width="1.7" fill="none"/><text x="1255.3" y="208.9" font-family="Liberation Sans" font-size="23.5">BK</text></g><rect x="958.5" y="18.5" width="621" height="402" fill="none" stroke="#111" stroke-width="1.8"/></svg>
</body></html>
